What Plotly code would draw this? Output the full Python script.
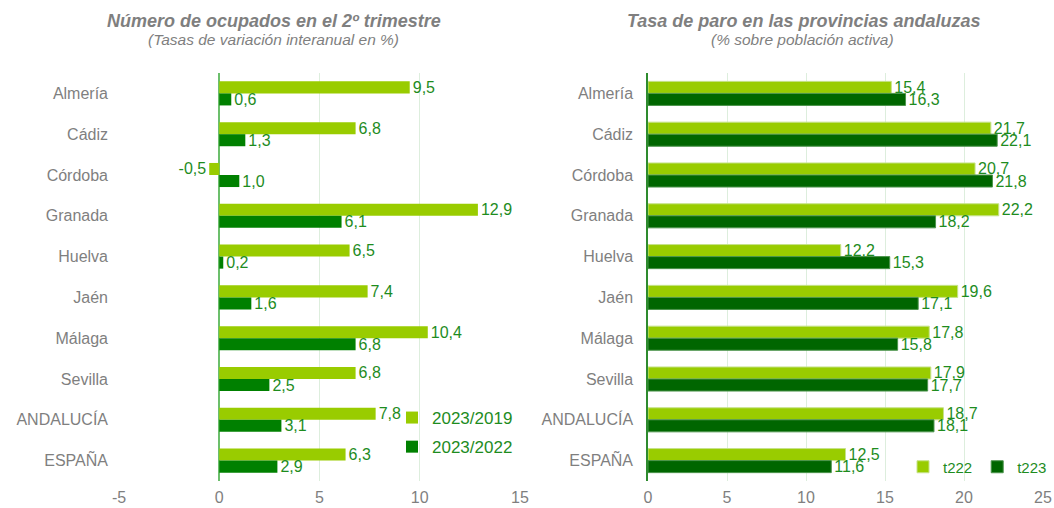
import plotly.graph_objects as go

categories = ["Almería", "Cádiz", "Córdoba", "Granada", "Huelva", "Jaén",
              "Málaga", "Sevilla", "ANDALUCÍA", "ESPAÑA"]
ocup_2023_2019 = [9.5, 6.8, -0.5, 12.9, 6.5, 7.4, 10.4, 6.8, 7.8, 6.3]
ocup_2023_2022 = [0.6, 1.3, 1.0, 6.1, 0.2, 1.6, 6.8, 2.5, 3.1, 2.9]
paro_t222 = [15.4, 21.7, 20.7, 22.2, 12.2, 19.6, 17.8, 17.9, 18.7, 12.5]
paro_t223 = [16.3, 22.1, 21.8, 18.2, 15.3, 17.1, 15.8, 17.7, 18.1, 11.6]
left_ticks = [-5, 0, 5, 10, 15]
left_tick_labels = ["-5", "0", "5", "10", "15"]
right_ticks = [0, 5, 10, 15, 20, 25]

LIGHT = "#99CC00"
DARK_L = "#008000"
DARK_R = "#006600"
TXT = "#1E8C1E"
GREY = "#7F7F7F"
FONT = "Liberation Sans, Arial, sans-serif"
W, H = 1054, 508


def fmt(v):
    return f"{v:.1f}".replace(".", ",")


fig = go.Figure()
common = dict(orientation="h", textposition="outside",
              textfont=dict(color=TXT, size=16, family=FONT), cliponaxis=False,
              constraintext="none")
fig.add_trace(go.Bar(y=categories, x=ocup_2023_2019, name="2023/2019",
                     text=[fmt(v) for v in ocup_2023_2019],
                     marker=dict(color=LIGHT, line=dict(width=0)), legendgroup="a",
                     xaxis="x", yaxis="y", legend="legend", **common))
fig.add_trace(go.Bar(y=categories, x=ocup_2023_2022, name="2023/2022",
                     text=[fmt(v) for v in ocup_2023_2022],
                     marker=dict(color=DARK_L, line=dict(width=0)), legendgroup="b",
                     xaxis="x", yaxis="y", legend="legend", **common))
fig.add_trace(go.Bar(y=categories, x=paro_t222, name="t222",
                     text=[fmt(v) for v in paro_t222],
                     marker=dict(color=LIGHT, line=dict(width=1, color="#C6E28A")),
                     xaxis="x2", yaxis="y2", legend="legend2", **common))
fig.add_trace(go.Bar(y=categories, x=paro_t223, name="t223",
                     text=[fmt(v) for v in paro_t223],
                     marker=dict(color=DARK_R, line=dict(width=1, color="#4C944C")),
                     xaxis="x2", yaxis="y2", legend="legend2", **common))


def px(x):
    return x / W


def py(y):
    return 1 - y / H


ydom = [py(481), py(73)]
gridc = "#DDEEDD"
tickfont = dict(size=16, color=GREY, family=FONT)

fig.update_layout(
    width=W, height=H, margin=dict(l=0, r=0, t=0, b=0),
    paper_bgcolor="white", plot_bgcolor="white",
    barmode="group", bargap=0.41, bargroupgap=0,
    separators=",.",
    font=dict(family=FONT),
    xaxis=dict(domain=[px(119), px(520)], range=[-5, 15], tickvals=left_ticks,
               ticktext=left_tick_labels,
               showgrid=True, gridcolor=gridc, gridwidth=1,
               zeroline=True, zerolinecolor="#6CBF6C", zerolinewidth=2,
               tickfont=tickfont, ticks="", ticklabelstandoff=5, anchor="y",
               automargin=False, fixedrange=True),
    yaxis=dict(domain=ydom, autorange="reversed", tickfont=tickfont,
               showgrid=False, ticks="", ticklabelstandoff=10, anchor="x",
               automargin=False),
    xaxis2=dict(domain=[px(648), px(1043)], range=[0, 25], tickvals=right_ticks,
                showgrid=True, gridcolor=gridc, gridwidth=1, zeroline=False,
                tickfont=tickfont, ticks="", ticklabelstandoff=5, anchor="y2",
                automargin=False),
    yaxis2=dict(domain=ydom, autorange="reversed", tickfont=tickfont,
                showgrid=False, ticks="", ticklabelstandoff=10, anchor="x2",
                showline=True, linecolor="#2E8B2E", linewidth=1.5,
                automargin=False),
    legend=dict(x=px(392), xanchor="left", y=py(400), yanchor="top",
                orientation="v", font=dict(size=17, color=TXT, family=FONT),
                bgcolor="rgba(0,0,0,0)", itemwidth=30, tracegroupgap=4),
    legend2=dict(x=px(903), xanchor="left", y=py(467), yanchor="middle",
                 orientation="h", font=dict(size=15, color=TXT, family=FONT),
                 bgcolor="rgba(0,0,0,0)", itemwidth=30),
    showlegend=True,
)

annotations = [
    dict(x=px(274), y=py(21), text="<b><i>Número de ocupados en el 2º trimestre</i></b>",
         font=dict(size=18, color=GREY, family=FONT)),
    dict(x=px(273), y=py(40), text="<i>(Tasas de variación interanual en %)</i>",
         font=dict(size=15.5, color=GREY, family=FONT)),
    dict(x=px(803), y=py(21), text="<b><i>Tasa de paro en las provincias andaluzas</i></b>",
         font=dict(size=18, color=GREY, family=FONT)),
    dict(x=px(802), y=py(40), text="<i>(% sobre población activa)</i>",
         font=dict(size=15.5, color=GREY, family=FONT)),
]
for a in annotations:
    a.update(xref="paper", yref="paper", showarrow=False, xanchor="center", yanchor="middle")
fig.update_layout(annotations=annotations)

fig.write_html("out.html", config={"displayModeBar": False},
               post_script="document.body.style.margin='0';document.body.style.overflow='hidden';")
